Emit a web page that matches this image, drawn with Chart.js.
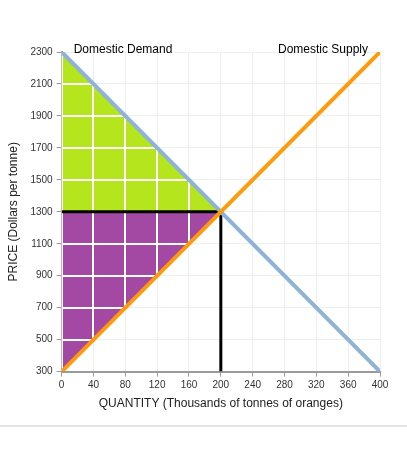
<!DOCTYPE html>
<html>
<head>
<meta charset="utf-8">
<script src="https://cdn.jsdelivr.net/npm/chart.js@4"></script>
<style>
  body { margin: 0; background: #fff; }
  .wrap { width: 407px; height: 425px; border-bottom: 2px solid #e2e2e2; }
</style>
</head>
<body>
<div class="wrap"><canvas id="c" width="407" height="425"></canvas></div>
<script>
// quantities (thousands of tonnes) and prices (dollars per tonne)
const quantities = [0, 400];
const demandPrices = [2300, 300];
const supplyPrices = [300, 2300];
const eqQuantity = 200;
const eqPrice = 1300;
const consumerSurplus = [[0, 2300], [0, 1300], [200, 1300]];
const producerSurplus = [[0, 1300], [200, 1300], [0, 300]];
const xTicks = [0, 40, 80, 120, 160, 200, 240, 280, 320, 360, 400];
const yTicks = [300, 500, 700, 900, 1100, 1300, 1500, 1700, 1900, 2100, 2300];

const pts = arr => arr.map(p => ({ x: p[0], y: p[1] }));

// white grid lines over the shaded triangles, and the curve labels
const overlay = {
    id: 'overlay',
    afterDatasetDraw(chart, args) {
        if (args.index !== 1) return;
        const { ctx, scales: { x, y }, chartArea } = chart;
        ctx.save();
        ctx.beginPath();
        [consumerSurplus, producerSurplus].forEach(tri => {
            tri.forEach((p, i) => {
                const px = x.getPixelForValue(p[0]), py = y.getPixelForValue(p[1]);
                i ? ctx.lineTo(px, py) : ctx.moveTo(px, py);
            });
            ctx.closePath();
        });
        ctx.clip();
        ctx.strokeStyle = '#ffffff';
        ctx.lineWidth = 2;
        ctx.beginPath();
        xTicks.forEach(v => {
            const px = Math.round(x.getPixelForValue(v));
            ctx.moveTo(px, chartArea.top); ctx.lineTo(px, chartArea.bottom);
        });
        yTicks.forEach(v => {
            const py = Math.round(y.getPixelForValue(v));
            ctx.moveTo(chartArea.left, py); ctx.lineTo(chartArea.right, py);
        });
        ctx.stroke();
        ctx.restore();
    },
    afterDraw(chart) {
        const { ctx, scales: { x, y } } = chart;
        ctx.save();
        ctx.font = '12px Arial, "Liberation Sans", sans-serif';
        ctx.fillStyle = '#000';
        ctx.textBaseline = 'middle';
        ctx.textAlign = 'left';
        ctx.fillText('Domestic Demand', x.getPixelForValue(quantities[0]) + 12, y.getPixelForValue(demandPrices[0]) - 2);
        ctx.textAlign = 'right';
        ctx.fillText('Domestic Supply', x.getPixelForValue(quantities[1]) - 12, y.getPixelForValue(supplyPrices[1]) - 2);
        ctx.restore();
    }
};

new Chart(document.getElementById('c'), {
    type: 'scatter',
    data: {
        datasets: [
            { data: pts(consumerSurplus), showLine: true, fill: 'shape', backgroundColor: '#b5e61d', borderWidth: 0, pointRadius: 0, order: 10 },
            { data: pts(producerSurplus), showLine: true, fill: 'shape', backgroundColor: '#a349a4', borderWidth: 0, pointRadius: 0, order: 9 },
            { data: [{ x: 0, y: eqPrice }, { x: eqQuantity, y: eqPrice }, { x: eqQuantity, y: 300 }], showLine: true, borderColor: '#000', borderWidth: 3, pointRadius: 0, order: 3, borderJoinStyle: 'miter' },
            { data: quantities.map((q, i) => ({ x: q, y: demandPrices[i] })), showLine: true, borderColor: '#8db3d6', borderWidth: 4, pointRadius: 0, order: 2 },
            { data: quantities.map((q, i) => ({ x: q, y: supplyPrices[i] })), showLine: true, borderColor: '#ff9a0a', borderWidth: 4, pointRadius: 0, order: 1 }
        ]
    },
    options: {
        responsive: false,
        animation: false,
        layout: { padding: { top: 52, right: 27, left: 2, bottom: 10 } },
        plugins: { legend: { display: false }, tooltip: { enabled: false } },
        scales: {
            x: {
                type: 'linear', min: 0, max: 400,
                afterBuildTicks: s => { s.ticks = xTicks.map(v => ({ value: v })); },
                grid: { color: '#eeeeee', tickColor: '#9a9a9a', tickLength: 5 },
                border: { color: '#9a9a9a', width: 2 },
                ticks: { color: '#333', font: { size: 10, family: 'Arial' }, padding: 3, maxRotation: 0, callback: v => String(v) },
                title: { display: true, text: 'QUANTITY (Thousands of tonnes of oranges)', color: '#222', font: { size: 12, family: 'Arial' }, padding: { top: 2 } }
            },
            y: {
                type: 'linear', min: 300, max: 2300,
                afterBuildTicks: s => { s.ticks = yTicks.map(v => ({ value: v })); },
                grid: { color: '#eeeeee', tickColor: '#9a9a9a', tickLength: 5 },
                border: { color: '#9a9a9a', width: 2 },
                ticks: { color: '#333', font: { size: 10, family: 'Arial' }, padding: 4, callback: v => String(v) },
                title: { display: true, text: 'PRICE (Dollars per tonne)', color: '#222', font: { size: 12, family: 'Arial' }, padding: { bottom: 6 } }
            }
        }
    },
    plugins: [overlay]
});
</script>
</body>
</html>
